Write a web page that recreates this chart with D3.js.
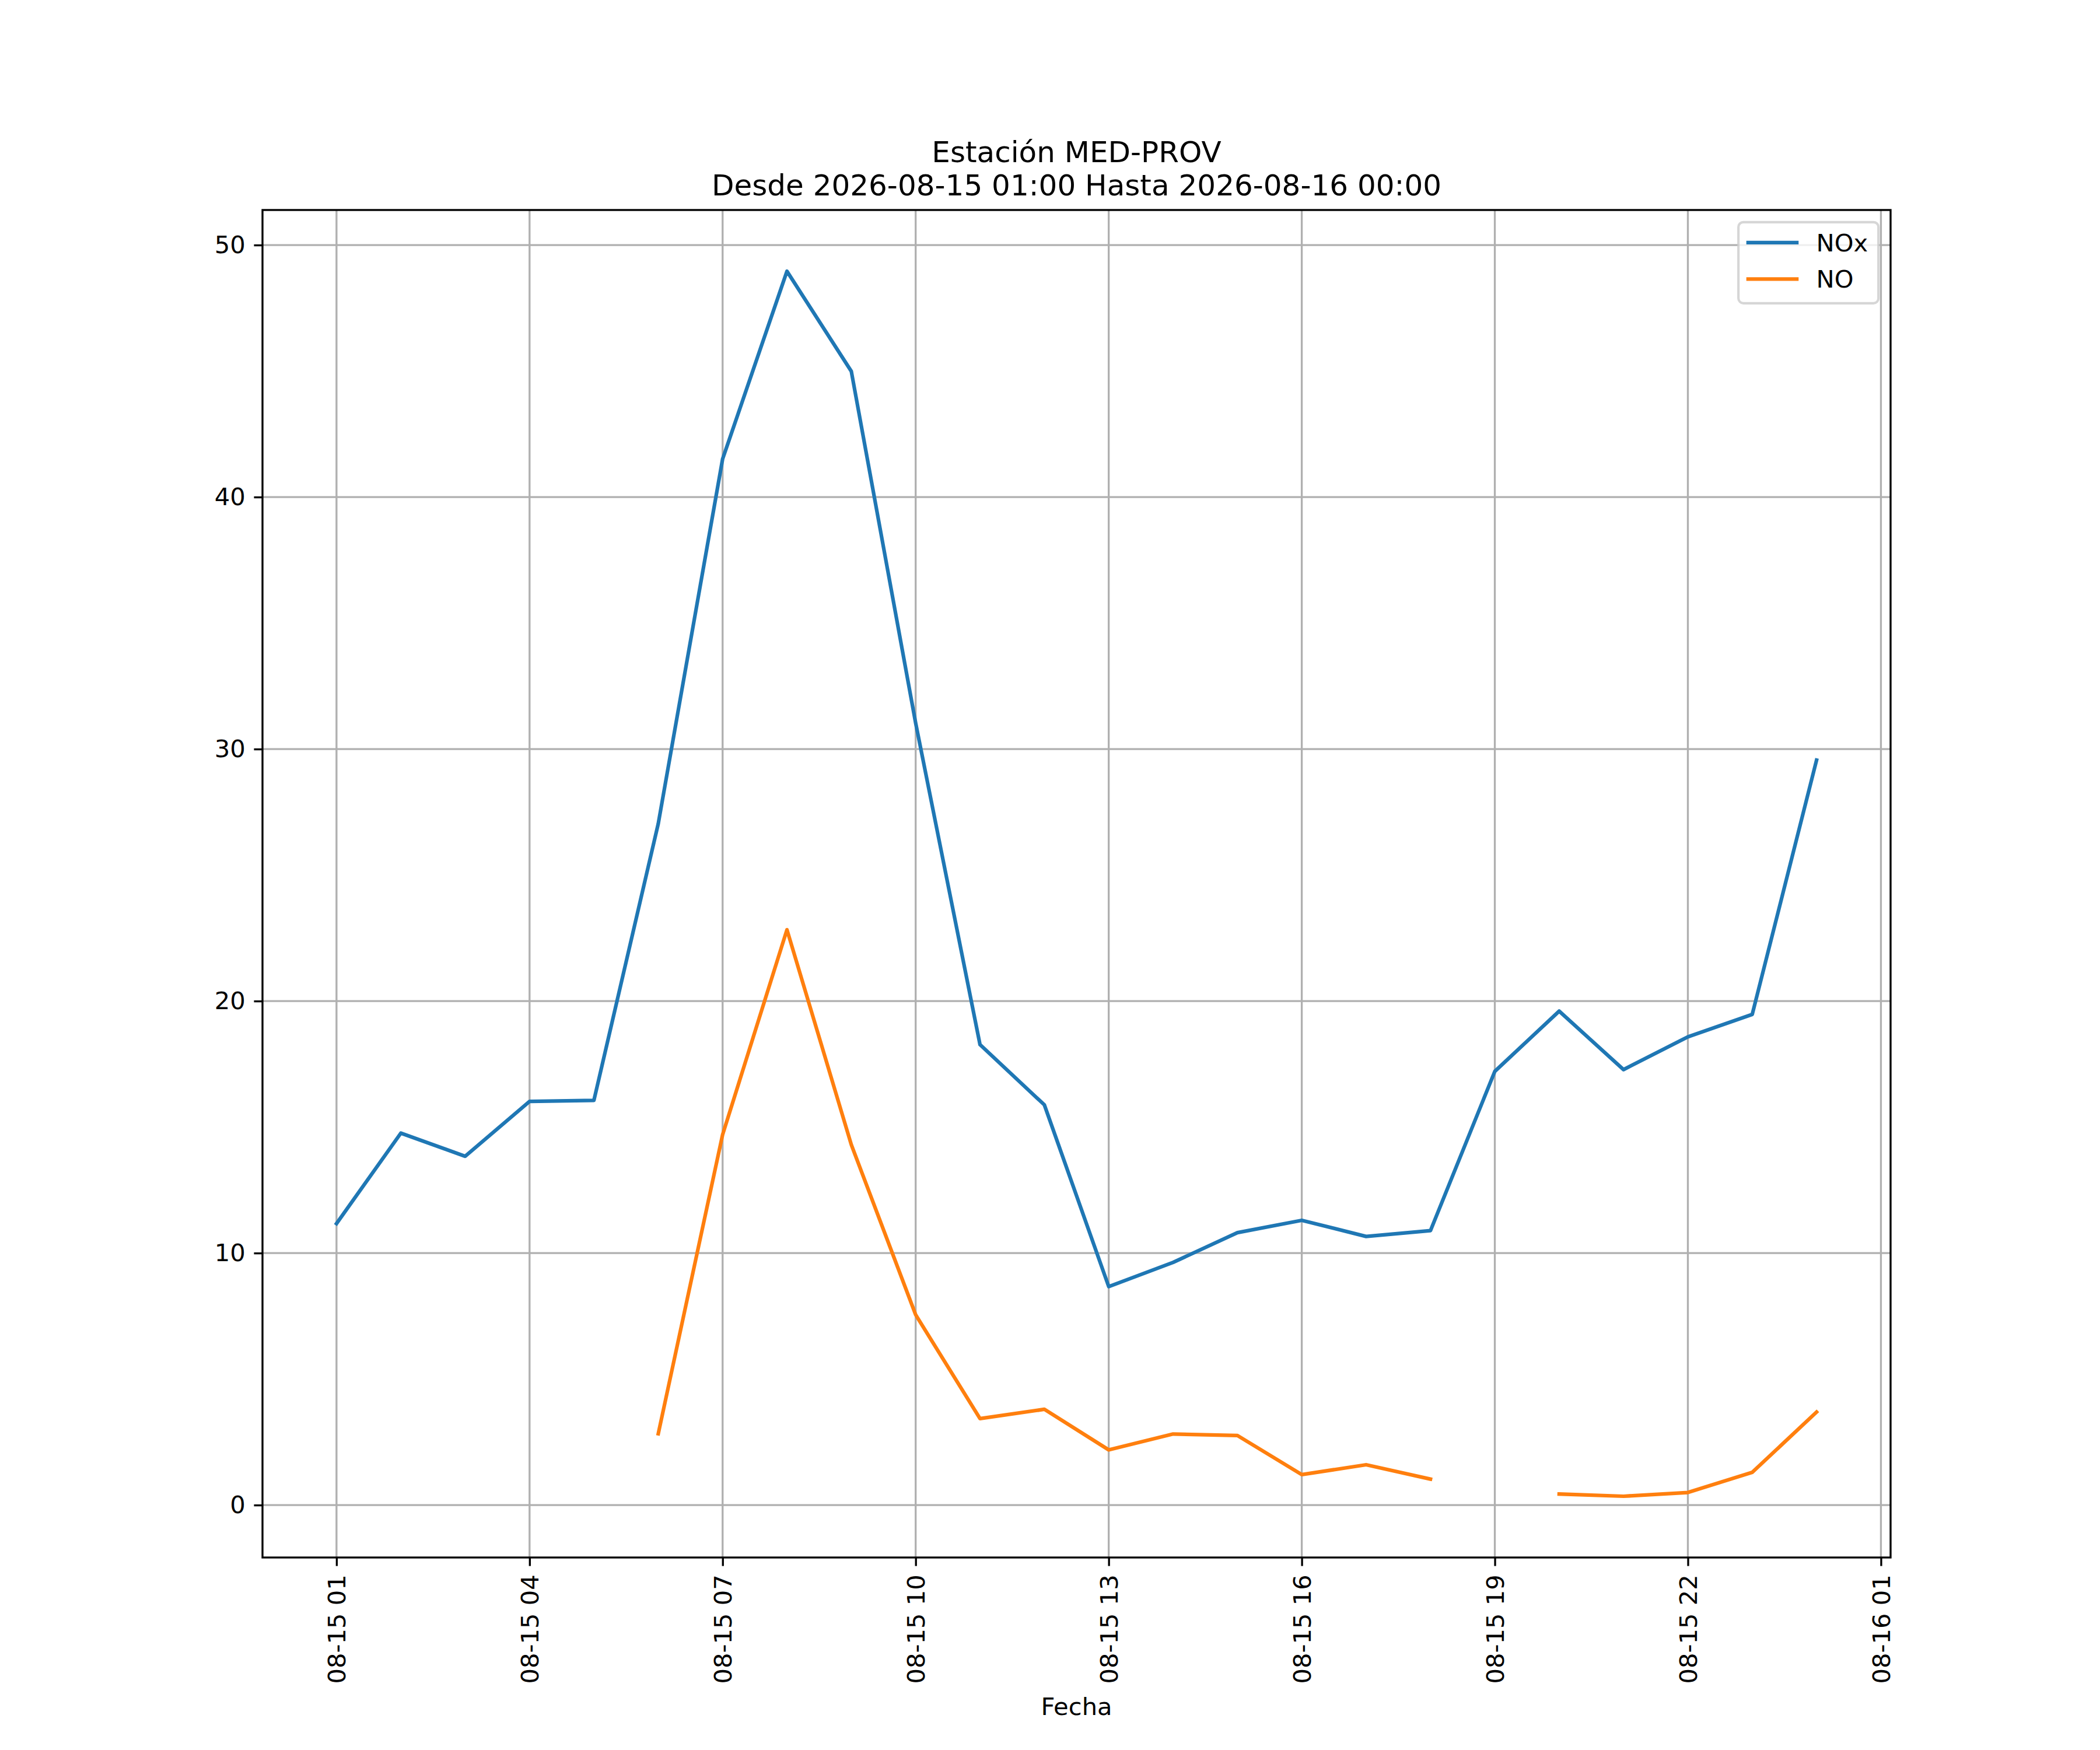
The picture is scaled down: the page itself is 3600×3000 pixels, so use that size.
<!DOCTYPE html>
<html>
<head>
<meta charset="utf-8">
<script src="https://cdn.jsdelivr.net/npm/d3@7"></script>
<style>
    body { margin: 0; background: #fff; }
    #chart-area { width: 3600px; height: 3000px; }
    text { font-family: "DejaVu Sans", sans-serif; fill: #000; }
</style>
</head>
<body>
<div id="chart-area"></div>
<script>

// hourly timestamps
let hours = [
    "2026-08-15 01:00", "2026-08-15 02:00", "2026-08-15 03:00", "2026-08-15 04:00",
    "2026-08-15 05:00", "2026-08-15 06:00", "2026-08-15 07:00", "2026-08-15 08:00",
    "2026-08-15 09:00", "2026-08-15 10:00", "2026-08-15 11:00", "2026-08-15 12:00",
    "2026-08-15 13:00", "2026-08-15 14:00", "2026-08-15 15:00", "2026-08-15 16:00",
    "2026-08-15 17:00", "2026-08-15 18:00", "2026-08-15 19:00", "2026-08-15 20:00",
    "2026-08-15 21:00", "2026-08-15 22:00", "2026-08-15 23:00", "2026-08-16 00:00"
];

let noxValues = [
    11.17, 14.76, 13.84, 16.02, 16.06, 27.04, 41.51, 48.96,
    44.99, 31.03, 18.27, 15.88, 8.67, 9.63, 10.81, 11.30,
    10.66, 10.89, 17.21, 19.60, 17.28, 18.58, 19.47, 29.56
];

// null = no measurement
let noValues = [
    null, null, null, null, null, 2.83, 14.7, 22.83,
    14.3, 7.55, 3.43, 3.80, 2.19, 2.82, 2.76, 1.21,
    1.60, 1.03, null, 0.44, 0.35, 0.50, 1.30, 3.69
];

let seriesNames = ["NOx", "NO"];
let seriesColors = ["#1f77b4", "#ff7f0e"];

let xTicks = [
    "2026-08-15 01:00", "2026-08-15 04:00", "2026-08-15 07:00", "2026-08-15 10:00",
    "2026-08-15 13:00", "2026-08-15 16:00", "2026-08-15 19:00", "2026-08-15 22:00",
    "2026-08-16 01:00"
];
let yTicks = [0, 10, 20, 30, 40, 50];

let titleLines = ["Estación MED-PROV", "Desde 2026-08-15 01:00 Hasta 2026-08-16 00:00"];
let xLabel = "Fecha";


class LineVis {

    constructor(parentElement) {
        this.parentElement = parentElement;
        this.parseDate = d3.timeParse("%Y-%m-%d %H:%M");
        this.formatTick = d3.timeFormat("%m-%d %H");
        this.initVis();
    }

    initVis() {
        let vis = this;

        // 1pt at 300 dpi
        vis.pt = 300 / 72;

        vis.margin = {top: 360, right: 359, bottom: 330, left: 450};
        vis.width = 3600 - vis.margin.left - vis.margin.right;
        vis.height = 3000 - vis.margin.top - vis.margin.bottom;

        vis.root = d3.select("#" + vis.parentElement).append("svg")
            .attr("width", 3600)
            .attr("height", 3000);

        vis.svg = vis.root.append("g")
            .attr("transform", `translate(${vis.margin.left}, ${vis.margin.top})`);

        vis.x = d3.scaleTime().range([0, vis.width]);
        vis.y = d3.scaleLinear().range([vis.height, 0]);

        vis.wrangleData();
    }

    wrangleData() {
        let vis = this;

        vis.series = seriesNames.map((name, i) => ({
            name: name,
            color: seriesColors[i],
            values: hours.map((h, j) => ({
                date: vis.parseDate(h),
                value: (i === 0 ? noxValues : noValues)[j]
            }))
        }));

        vis.updateVis();
    }

    updateVis() {
        let vis = this;
        let pt = vis.pt;
        let fs = 10 * pt;

        // matplotlib style 5% margins
        let xExt = d3.extent(hours, h => vis.parseDate(h));
        let xPad = (xExt[1] - xExt[0]) * 0.05;
        vis.x.domain([new Date(+xExt[0] - xPad), new Date(+xExt[1] + xPad)]);

        let allValues = noxValues.concat(noValues).filter(v => v !== null);
        let yExt = d3.extent(allValues);
        let yPad = (yExt[1] - yExt[0]) * 0.05;
        vis.y.domain([yExt[0] - yPad, yExt[1] + yPad]);

        let tickDates = xTicks.map(t => vis.parseDate(t));

        // grid
        vis.svg.append("g").attr("class", "grid")
            .selectAll("line.vgrid")
            .data(tickDates)
            .enter().append("line")
            .attr("x1", d => vis.x(d)).attr("x2", d => vis.x(d))
            .attr("y1", 0).attr("y2", vis.height)
            .attr("stroke", "#b0b0b0").attr("stroke-width", 0.8 * pt);

        vis.svg.select(".grid")
            .selectAll("line.hgrid")
            .data(yTicks)
            .enter().append("line")
            .attr("x1", 0).attr("x2", vis.width)
            .attr("y1", d => vis.y(d)).attr("y2", d => vis.y(d))
            .attr("stroke", "#b0b0b0").attr("stroke-width", 0.8 * pt);

        // lines
        let line = d3.line()
            .defined(d => d.value !== null)
            .x(d => vis.x(d.date))
            .y(d => vis.y(d.value));

        vis.svg.selectAll(".series-line")
            .data(vis.series)
            .enter().append("path")
            .attr("class", "series-line")
            .attr("d", d => line(d.values))
            .attr("fill", "none")
            .attr("stroke", d => d.color)
            .attr("stroke-width", 1.5 * pt)
            .attr("stroke-linejoin", "round")
            .attr("stroke-linecap", "square");

        // axes
        vis.xAxis = d3.axisBottom(vis.x)
            .tickValues(tickDates)
            .tickFormat(vis.formatTick)
            .tickSize(3.5 * pt)
            .tickPadding(3.5 * pt);

        vis.yAxis = d3.axisLeft(vis.y)
            .tickValues(yTicks)
            .tickFormat(d3.format("d"))
            .tickSize(3.5 * pt)
            .tickPadding(3.5 * pt);

        vis.xAxisGroup = vis.svg.append("g")
            .attr("class", "x-axis axis")
            .attr("transform", `translate(0, ${vis.height})`)
            .call(vis.xAxis);

        vis.yAxisGroup = vis.svg.append("g")
            .attr("class", "y-axis axis")
            .call(vis.yAxis);

        vis.svg.selectAll(".axis .domain").remove();
        vis.svg.selectAll(".axis line")
            .attr("stroke", "#000")
            .attr("stroke-width", 0.8 * pt);
        vis.svg.selectAll(".axis text")
            .attr("font-size", fs)
            .attr("font-family", "DejaVu Sans")
            .attr("fill", "#000");

        vis.xAxisGroup.selectAll("text")
            .attr("transform", "rotate(-90)")
            .attr("text-anchor", "end")
            .attr("x", -7 * pt)
            .attr("y", 0)
            .attr("dy", "0.35em");

        // spines
        vis.svg.append("rect")
            .attr("x", 0).attr("y", 0)
            .attr("width", vis.width).attr("height", vis.height)
            .attr("fill", "none")
            .attr("stroke", "#000")
            .attr("stroke-width", 0.8 * pt);

        // title
        vis.svg.append("text")
            .attr("class", "title")
            .attr("x", vis.width / 2)
            .attr("y", -6 * pt)
            .attr("text-anchor", "middle")
            .attr("font-size", 12 * pt)
            .selectAll("tspan")
            .data(titleLines)
            .enter().append("tspan")
            .attr("x", vis.width / 2)
            .attr("dy", (d, i) => i === 0 ? -57 : 57)
            .text(d => d);

        // x label
        vis.svg.append("text")
            .attr("x", vis.width / 2)
            .attr("y", vis.height + 270)
            .attr("text-anchor", "middle")
            .attr("font-size", fs)
            .text(xLabel);

        // legend
        let boxW = 240, boxH = 139;
        let legend = vis.svg.append("g")
            .attr("class", "legend")
            .attr("transform", `translate(${vis.width - 0.5 * fs - boxW}, ${0.5 * fs})`);

        legend.append("rect")
            .attr("width", boxW).attr("height", boxH)
            .attr("rx", 0.2 * fs).attr("ry", 0.2 * fs)
            .attr("fill", "rgba(255,255,255,0.8)")
            .attr("stroke", "rgba(204,204,204,0.8)")
            .attr("stroke-width", 1 * pt);

        let items = legend.selectAll(".legend-item")
            .data(vis.series)
            .enter().append("g")
            .attr("class", "legend-item")
            .attr("transform", (d, i) => `translate(${0.4 * fs}, ${35 + i * 1.5 * fs})`);

        items.append("line")
            .attr("x1", 0).attr("x2", 2 * fs)
            .attr("y1", 0).attr("y2", 0)
            .attr("stroke", d => d.color)
            .attr("stroke-width", 1.5 * pt)
            .attr("stroke-linecap", "square");

        items.append("text")
            .attr("x", 2.8 * fs)
            .attr("y", 0)
            .attr("dy", "0.36em")
            .attr("font-size", fs)
            .text(d => d.name);
    }
}

let lineVis = new LineVis("chart-area");

</script>
</body>
</html>
